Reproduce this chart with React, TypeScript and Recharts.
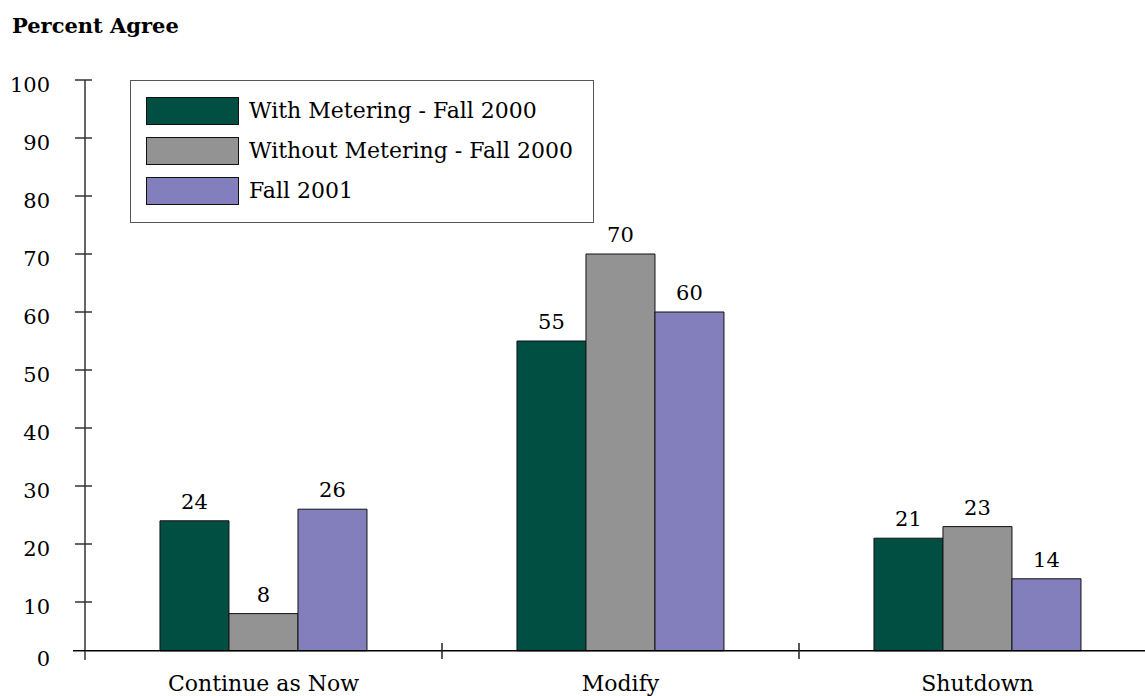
import React from 'react';
import { BarChart, Bar, XAxis, YAxis, LabelList, Legend, ReferenceLine } from 'recharts';

const FONT = "'DejaVu Serif', serif";

const CATEGORIES = ['Continue as Now', 'Modify', 'Shutdown'];
const WITH_METERING_2000 = [24, 55, 21];
const WITHOUT_METERING_2000 = [8, 70, 23];
const FALL_2001 = [26, 60, 14];
const Y_TICKS = [0, 10, 20, 30, 40, 50, 60, 70, 80, 90, 100];
const Y_MAX = 100;
// the category axis crosses the value axis slightly above zero
const AXIS_CROSS = 1.6;

const SERIES = [
  { key: 'withMetering', name: 'With Metering - Fall 2000', values: WITH_METERING_2000, color: '#014E43' },
  { key: 'withoutMetering', name: 'Without Metering - Fall 2000', values: WITHOUT_METERING_2000, color: '#939393' },
  { key: 'fall2001', name: 'Fall 2001', values: FALL_2001, color: '#827FBC' },
];

const data = CATEGORIES.map((category, i) => {
  const row: any = { category };
  SERIES.forEach((s) => {
    row[s.key] = [AXIS_CROSS, s.values[i]];
    row[s.key + 'Label'] = s.values[i];
  });
  return row;
});

const YTick = ({ x, y, payload, height }: any) => {
  // zero has no tick of its own: the category axis runs out past the value axis instead
  const isZero = payload.value === 0;
  const crossY = typeof height === 'number' ? y - (AXIS_CROSS / Y_MAX) * height : y;
  return (
    <g>
      {isZero ? (
        <line x1={x - 12} x2={x} y1={crossY} y2={crossY} stroke="#000" strokeWidth={1.5} />
      ) : (
        <line x1={x - 10} x2={x + 7} y1={y} y2={y} stroke="#333" strokeWidth={1.5} />
      )}
      <text x={x - 35} y={y + (isZero ? 6 : 12)} textAnchor="end" fontSize={21} fill="#000" fontFamily={FONT}>
        {payload.value}
      </text>
    </g>
  );
};

const XTick = ({ x, y, payload, index }: any) => {
  const edge = x + (payload.offset ?? 0);
  return (
    <g>
      {index < CATEGORIES.length - 1 && (
        <line x1={edge} x2={edge} y1={y - 17} y2={y - 1} stroke="#222" strokeWidth={1.5} />
      )}
      <text x={x} y={y + 31} textAnchor="middle" fontSize={22} fill="#000" fontFamily={FONT}>
        {payload.value}
      </text>
    </g>
  );
};

// drawn in series order, the library sorts its payload by name
const LegendBox = () => (
  <div
    style={{
      boxSizing: 'border-box',
      width: 464,
      height: 143,
      border: '1.5px solid #555',
      background: '#fff',
      padding: '16px 0 0 15px',
    }}
  >
    {SERIES.map((s) => (
      <div key={s.key} style={{ display: 'flex', alignItems: 'center', height: 28, marginBottom: 12 }}>
        <span
          style={{
            display: 'inline-block',
            width: 93,
            height: 28,
            boxSizing: 'border-box',
            background: s.color,
            border: '1px solid #111',
          }}
        />
        <span style={{ marginLeft: 10, fontSize: 22, fontFamily: FONT, lineHeight: '28px', color: '#000' }}>
          {s.name}
        </span>
      </div>
    ))}
  </div>
);

export default function App() {
  return (
    <div
      style={{
        position: 'absolute',
        left: 0,
        top: 0,
        width: 1145,
        height: 696,
        overflow: 'hidden',
        background: '#fff',
        fontFamily: FONT,
      }}
    >
      <div
        style={{
          position: 'absolute',
          left: 12,
          top: 15,
          fontSize: 21,
          fontWeight: 'bold',
          lineHeight: '21px',
        }}
      >
        Percent Agree
      </div>
      <BarChart
        width={1160}
        height={696}
        data={data}
        margin={{ top: 80, right: 4, bottom: 0, left: 0 }}
        barCategoryGap="21%"
        barGap={0}
      >
        <XAxis
          dataKey="category"
          height={36}
          axisLine={false}
          tickLine={false}
          tickSize={0}
          tickMargin={0}
          interval={0}
          tick={<XTick />}
        />
        <YAxis
          width={85}
          domain={[0, Y_MAX]}
          ticks={Y_TICKS}
          interval={0}
          axisLine={{ stroke: '#333', strokeWidth: 1.5 }}
          tickLine={false}
          tickSize={0}
          tickMargin={0}
          tick={<YTick />}
        />
        <Legend
          layout="vertical"
          align="center"
          verticalAlign="middle"
          wrapperStyle={{ left: 130, top: 80, width: 464, height: 143 }}
          content={<LegendBox />}
        />
        {SERIES.map((s) => (
          <Bar
            key={s.key}
            dataKey={s.key}
            name={s.name}
            fill={s.color}
            stroke="#111"
            strokeWidth={1}
            isAnimationActive={false}
          >
            <LabelList
              dataKey={s.key + 'Label'}
              position="top"
              offset={12}
              fontSize={21}
              fill="#000"
              fontFamily={FONT}
            />
          </Bar>
        ))}
        <ReferenceLine y={AXIS_CROSS} stroke="#000" strokeWidth={1.5} />
      </BarChart>
    </div>
  );
}
